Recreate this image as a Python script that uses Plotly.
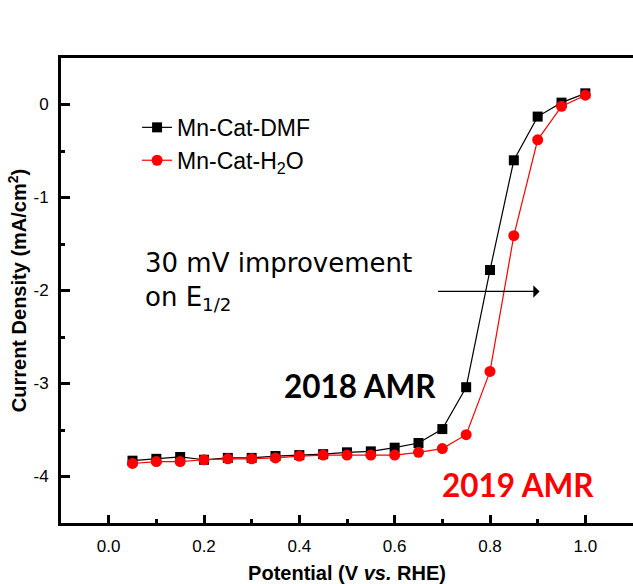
import plotly.graph_objects as go

potential = [0.05, 0.10, 0.15, 0.20, 0.25, 0.30, 0.35, 0.40, 0.45, 0.50,
             0.55, 0.60, 0.65, 0.70, 0.75, 0.80, 0.85, 0.90, 0.95, 1.00]
dmf = [-3.83, -3.81, -3.79, -3.82, -3.80, -3.80, -3.78, -3.77, -3.76, -3.74,
       -3.73, -3.69, -3.64, -3.49, -3.04, -1.78, -0.60, -0.13, 0.02, 0.12]
h2o = [-3.86, -3.84, -3.84, -3.82, -3.81, -3.81, -3.80, -3.78, -3.77, -3.77,
       -3.77, -3.77, -3.74, -3.70, -3.55, -2.87, -1.41, -0.38, -0.02, 0.10]

names = ["Mn-Cat-DMF", "Mn-Cat-H<sub>2</sub>O"]
x_ticks = [0.0, 0.2, 0.4, 0.6, 0.8, 1.0]
x_ticklabels = ["0.0", "0.2", "0.4", "0.6", "0.8", "1.0"]
y_ticks = [0, -1, -2, -3, -4]
y_ticklabels = ["0", "-1", "-2", "-3", "-4"]

FONT = "Liberation Sans, Arial, sans-serif"

fig = go.Figure()
fig.add_trace(go.Scatter(
    x=potential, y=dmf, name=names[0], mode="lines+markers",
    line=dict(color="black", width=1.2),
    marker=dict(symbol="square", size=10, color="black"),
))
fig.add_trace(go.Scatter(
    x=potential, y=h2o, name=names[1], mode="lines+markers",
    line=dict(color="#FF0000", width=1.2),
    marker=dict(symbol="circle", size=11, color="#FF0000"),
))

axis_common = dict(
    showgrid=False, zeroline=False, showline=True, linecolor="black",
    linewidth=3, ticks="inside", tickcolor="black", tickwidth=2.5,
    tickfont=dict(family=FONT, size=17, color="black"),
)

fig.update_xaxes(
    range=[-0.1, 1.1], tickvals=x_ticks, ticktext=x_ticklabels,
    ticklen=8, mirror=True,
    minor=dict(ticks="inside", tickvals=[0.1, 0.3, 0.5, 0.7, 0.9],
               ticklen=4, tickwidth=2.5, tickcolor="black"),
    title=dict(text="<b>Potential (V <i>vs.</i> RHE)</b>",
               font=dict(family=FONT, size=20, color="black"), standoff=13),
    ticklabelstandoff=6,
    **axis_common,
)
fig.update_yaxes(
    range=[-4.5, 0.5], tickvals=y_ticks, ticktext=y_ticklabels,
    ticklen=9, mirror=False,
    minor=dict(ticks="inside", tickvals=[-4.5, -3.5, -2.5, -1.5, -0.5],
               ticklen=4, tickwidth=2.5, tickcolor="black"),
    title=dict(text="<b>Current Density (mA/cm<sup>2</sup>)</b>",
               font=dict(family=FONT, size=20, color="black"), standoff=2),
    ticklabelstandoff=6,
    **axis_common,
)

fig.add_annotation(
    x=0.904, y=-2.01, ax=0.688, ay=-2.01, xref="x", yref="y",
    axref="x", ayref="y", text="", showarrow=True,
    arrowhead=1, arrowsize=1.6, arrowwidth=1.3, arrowcolor="black",
)
fig.add_annotation(
    x=0.071, y=-1.90, xref="x", yref="y", xanchor="left", yanchor="middle",
    align="left", showarrow=False,
    text="30 mV improvement<br>on E<sub>1/2</sub>",
    font=dict(family="DejaVu Sans", size=26, color="black"),
)
fig.add_annotation(
    x=0.528, y=-3.03, xref="x", yref="y", showarrow=False,
    text="<b>2018 AMR</b>",
    font=dict(family="Lato", size=31.5, color="black"),
)
fig.add_annotation(
    x=0.858, y=-4.09, xref="x", yref="y", showarrow=False,
    text="<b>2019 AMR</b>",
    font=dict(family="Lato", size=31.5, color="#FF0000"),
)

fig.update_layout(
    width=633, height=584,
    margin=dict(l=61, r=0, t=58, b=61),
    paper_bgcolor="white", plot_bgcolor="white",
    showlegend=True,
    legend=dict(x=0.133, y=0.897, xanchor="left", yanchor="top",
                bgcolor="rgba(0,0,0,0)", borderwidth=0,
                font=dict(family=FONT, size=23, color="black")),
)

fig.write_html("out.html")
